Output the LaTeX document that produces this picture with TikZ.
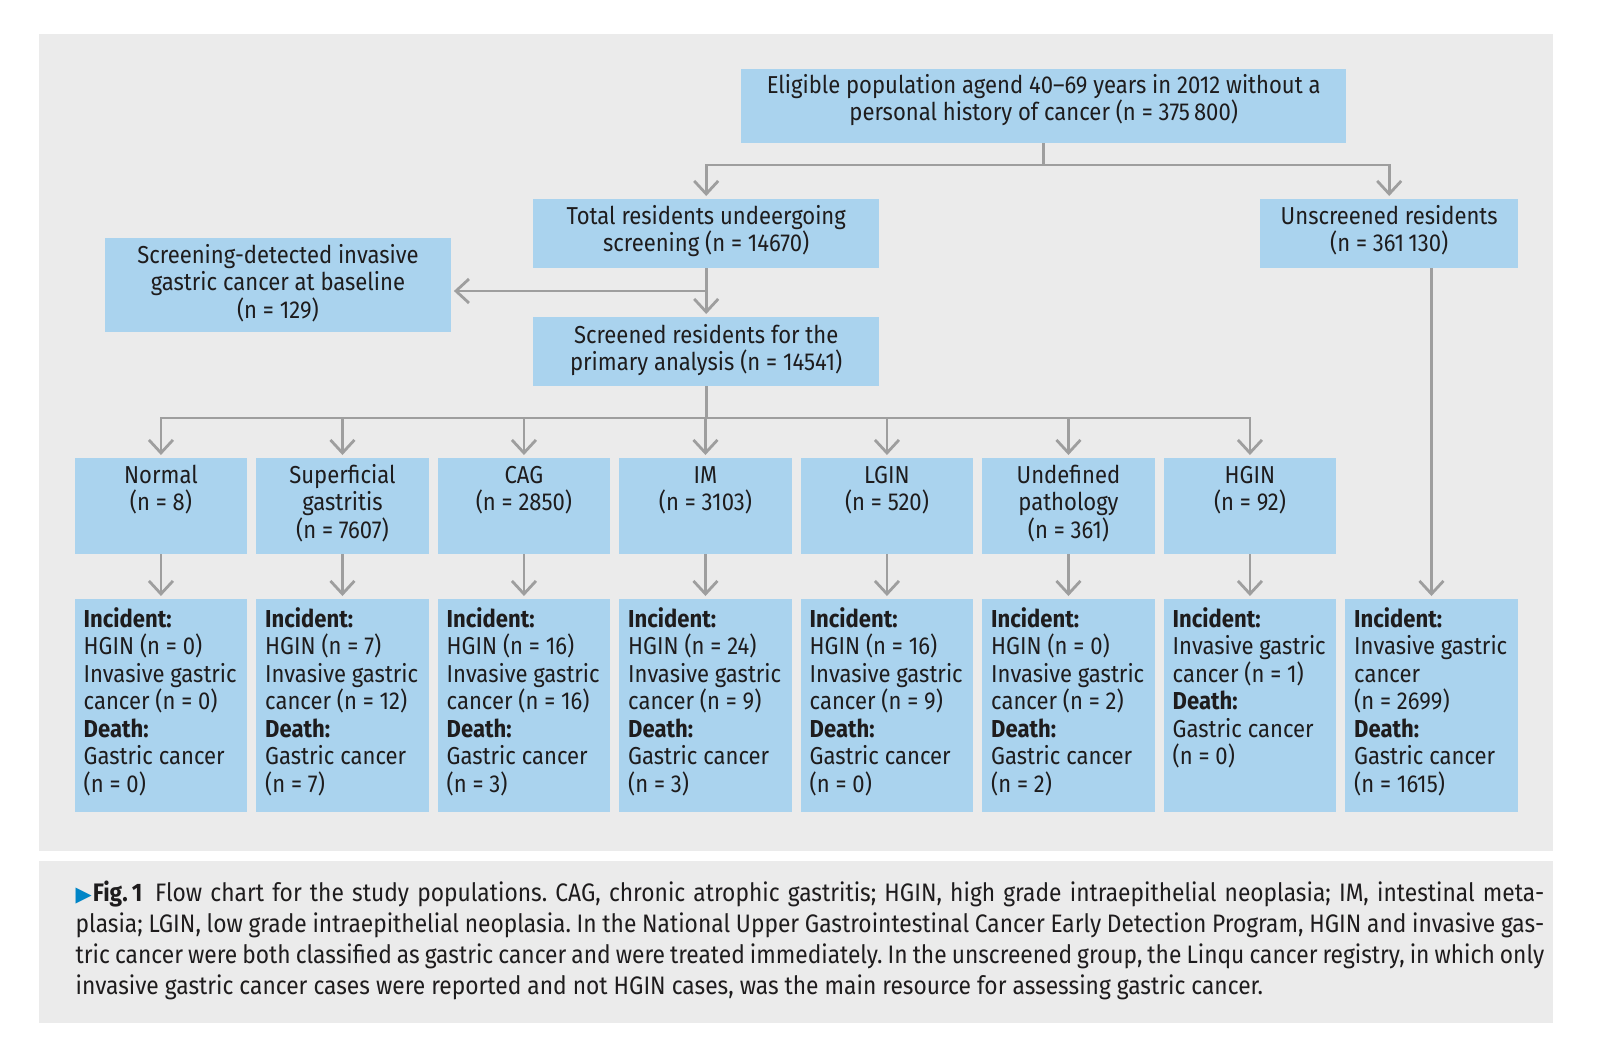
\documentclass[tikz,border=0pt]{standalone}
\usepackage{fontspec}
\setmainfont{Fira Sans}[FakeStretch=0.9]
\newfontfamily\symfont{DejaVu Sans}
\usetikzlibrary{arrows.meta}
\definecolor{boxblue}{RGB}{170,211,238}
\definecolor{panelgray}{RGB}{235,235,235}
\definecolor{linegray}{RGB}{158,158,158}
\definecolor{txt}{RGB}{30,28,29}
\definecolor{capblue}{RGB}{0,133,199}
\newcommand{\bxfont}{\fontsize{24.5}{27.5}\selectfont}
\frenchspacing
\begin{document}
\begin{tikzpicture}[x=1pt,y=-1pt,
  boxf/.style={fill=boxblue, draw=none, inner sep=0pt, anchor=north west},
  txtc/.style={font=\bxfont, text=txt, align=center, inner sep=0pt, anchor=north},
  txtl/.style={font=\bxfont, text=txt, align=left, inner sep=0pt, anchor=north west, xshift=9pt},
  conn/.style={draw=linegray, line width=2.8pt},
  arr/.style={conn, -{Straight Barb[length=13pt,width=24pt]}, shorten >=3pt}
]
\useasboundingbox (0,0) rectangle (1600,1055);
\fill[panelgray] (39,34) rectangle (1553,851);
\fill[panelgray] (39,861) rectangle (1553,1023);

% upper boxes
\node[boxf, minimum width=605pt, minimum height=74pt] (elig) at (741,69) {};
\node[boxf, minimum width=346pt, minimum height=69pt] (total) at (533,199) {};
\node[boxf, minimum width=258pt, minimum height=69pt] (unscr) at (1260,199) {};
\node[boxf, minimum width=345.5pt, minimum height=94pt] (detect) at (105,238) {};
\node[boxf, minimum width=346pt, minimum height=69pt] (screened) at (533,317) {};

\node[txtc] (elig-t) at (elig.north) {\rule{0pt}{24pt}Eligible population agend 40–69 years in 2012 without a\\personal history of cancer (n = 375\,800)};
\node[txtc] (total-t) at (total.north) {\rule{0pt}{25pt}Total residents undeergoing\\screening (n = 14670)};
\node[txtc] (unscr-t) at (unscr.north) {\rule{0pt}{25pt}Unscreened residents\\(n = 361\,130)};
\node[txtc] (detect-t) at (detect.north) {\rule{0pt}{25pt}Screening-detected invasive\\gastric cancer at baseline\\(n = 129)};
\node[txtc] (screened-t) at (screened.north) {\rule{0pt}{26pt}Screened residents for the\\primary analysis (n = 14541)};

% rows of boxes
\foreach \i in {1,...,7} {
  \pgfmathsetmacro\xl{74.5+181.5*(\i-1)}
  \node[boxf, minimum width=172.5pt, minimum height=96pt] (m\i) at (\xl,458) {};
}
\foreach \i in {1,...,8} {
  \pgfmathsetmacro\xl{74.5+181.5*(\i-1)}
  \node[boxf, minimum width=172.5pt, minimum height=213pt] (b\i) at (\xl,599) {};
}

\node[txtc] (m1-t) at (m1.north) {\rule{0pt}{25pt}Normal\\(n = 8)};
\node[txtc] (m2-t) at (m2.north) {\rule{0pt}{25pt}Superficial\\gastritis\\(n = 7607)};
\node[txtc] (m3-t) at (m3.north) {\rule{0pt}{25pt}CAG\\(n = 2850)};
\node[txtc] (m4-t) at (m4.north) {\rule{0pt}{25pt}IM\\(n = 3103)};
\node[txtc] (m5-t) at (m5.north) {\rule{0pt}{25pt}LGIN\\(n = 520)};
\node[txtc] (m6-t) at (m6.north) {\rule{0pt}{25pt}Undefined\\pathology\\(n = 361)};
\node[txtc] (m7-t) at (m7.north) {\rule{0pt}{25pt}HGIN\\(n = 92)};

\node[txtl] (b1-t) at (b1.north west) {\rule{0pt}{28pt}\textbf{Incident:}\\HGIN (n = 0)\\Invasive gastric\\cancer (n = 0)\\\textbf{Death:}\\Gastric cancer\\(n = 0)};
\node[txtl] (b2-t) at (b2.north west) {\rule{0pt}{28pt}\textbf{Incident:}\\HGIN (n = 7)\\Invasive gastric\\cancer (n = 12)\\\textbf{Death:}\\Gastric cancer\\(n = 7)};
\node[txtl] (b3-t) at (b3.north west) {\rule{0pt}{28pt}\textbf{Incident:}\\HGIN (n = 16)\\Invasive gastric\\cancer (n = 16)\\\textbf{Death:}\\Gastric cancer\\(n = 3)};
\node[txtl] (b4-t) at (b4.north west) {\rule{0pt}{28pt}\textbf{Incident:}\\HGIN (n = 24)\\Invasive gastric\\cancer (n = 9)\\\textbf{Death:}\\Gastric cancer\\(n = 3)};
\node[txtl] (b5-t) at (b5.north west) {\rule{0pt}{28pt}\textbf{Incident:}\\HGIN (n = 16)\\Invasive gastric\\cancer (n = 9)\\\textbf{Death:}\\Gastric cancer\\(n = 0)};
\node[txtl] (b6-t) at (b6.north west) {\rule{0pt}{28pt}\textbf{Incident:}\\HGIN (n = 0)\\Invasive gastric\\cancer (n = 2)\\\textbf{Death:}\\Gastric cancer\\(n = 2)};
\node[txtl] (b7-t) at (b7.north west) {\rule{0pt}{28pt}\textbf{Incident:}\\Invasive gastric\\cancer (n = 1)\\\textbf{Death:}\\Gastric cancer\\(n = 0)};
\node[txtl] (b8-t) at (b8.north west) {\rule{0pt}{28pt}\textbf{Incident:}\\Invasive gastric\\cancer\\(n = 2699)\\\textbf{Death:}\\Gastric cancer\\(n = 1615)};

% connectors
\coordinate (eb) at (elig.south |- 0,165);
\draw[conn] (elig.south) -- (eb);
\draw[arr] (eb) -| (total.north);
\draw[arr] (eb) -| (unscr.north);
\draw[arr] (total.south) -- (screened.north);
\coordinate (br) at (total.south |- 0,291);
\draw[arr] (br) -- (detect.east |- br);
\coordinate (sb) at (screened.south |- 0,418);
\draw[conn] (screened.south) -- (sb);
\draw[conn, line cap=rect] (m1.north |- sb) -- (m7.north |- sb);
\foreach \i in {1,...,7} {
  \draw[arr] (m\i.north |- sb) -- (m\i.north);
  \draw[arr] (m\i.south) -- (b\i.north);
}
\draw[arr] (unscr.south -| b8.north) -- (b8.north);

% caption
\node[anchor=north west, inner sep=0pt, text=txt, font=\fontsize{25.3}{31}\selectfont] (cap) at (75.5,861) {\parbox{1468.5pt}{\frenchspacing
\hbox to\hsize{\rule{0pt}{40.5pt}{\color{capblue}\symfont\fontsize{21}{21}\selectfont ▶}\kern1pt\textbf{Fig.\,1}\enspace Flow chart for the study populations. CAG, chronic atrophic gastritis; HGIN, high grade intraepithelial neoplasia; IM, intestinal meta-}
\hbox to\hsize{plasia; LGIN, low grade intraepithelial neoplasia. In the National Upper Gastrointestinal Cancer Early Detection Program, HGIN and invasive gas-}
\hbox to\hsize{tric cancer were both classified as gastric cancer and were treated immediately. In the unscreened group, the Linqu cancer registry, in which only}
\hbox{invasive gastric cancer cases were reported and not HGIN cases, was the main resource for assessing gastric cancer.}}};
\end{tikzpicture}
\end{document}
